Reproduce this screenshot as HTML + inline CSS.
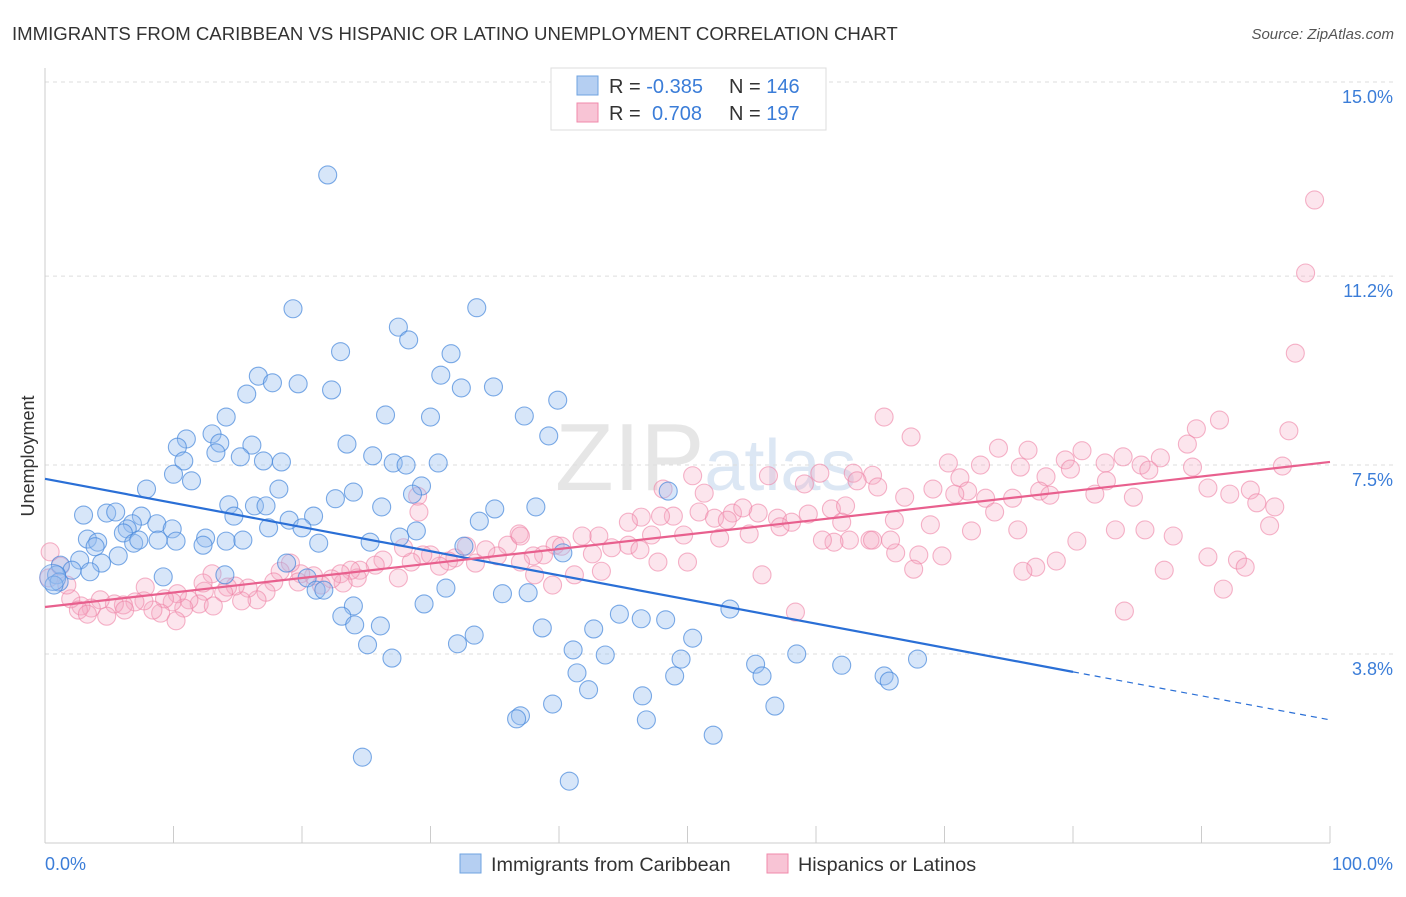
<!DOCTYPE html>
<html><head><meta charset="utf-8"><style>
body{margin:0;background:#fff;font-family:"Liberation Sans",sans-serif;}
svg text{font-family:"Liberation Sans",sans-serif;}
</style></head><body>
<svg id="chart" width="1406" height="892" xmlns="http://www.w3.org/2000/svg">
<text x="12" y="40" font-size="18.6" fill="#333">IMMIGRANTS FROM CARIBBEAN VS HISPANIC OR LATINO UNEMPLOYMENT CORRELATION CHART</text>
<text x="1394" y="39" font-size="15" fill="#555" font-style="italic" text-anchor="end">Source: ZipAtlas.com</text>
<text x="555" y="490" font-size="96" fill="#e6e6e6" font-family="Liberation Serif">ZIP<tspan fill="#dce7f4" font-family="Liberation Sans" font-size="72">atlas</tspan></text>
<g id="grid"></g>
<g id="axes"></g>
<g id="pinkpts"></g>
<g id="bluepts"></g>
<g id="trends"></g>
<text transform="translate(34,456) rotate(-90)" font-size="18" fill="#333" text-anchor="middle">Unemployment</text>
<text x="45" y="870" font-size="18" fill="#3b7dd8">0.0%</text>
<text x="1393" y="870" font-size="18" fill="#3b7dd8" text-anchor="end">100.0%</text>
<g>
<rect x="551" y="68" width="275" height="62" fill="#fff" stroke="#ddd"/>
<rect x="577" y="76" width="21" height="19" fill="#b5cff2" stroke="#6fa3e0"/>
<rect x="577" y="103" width="21" height="19" fill="#f8c4d5" stroke="#f08aab"/>
<text x="609" y="93" font-size="20" fill="#333">R = <tspan fill="#3b7dd8">-0.385</tspan><tspan x="729">N = </tspan><tspan fill="#3b7dd8">146</tspan></text>
<text x="609" y="120" font-size="20" fill="#333">R = <tspan fill="#3b7dd8" x="652">0.708</tspan><tspan x="729">N = </tspan><tspan fill="#3b7dd8">197</tspan></text>
</g>
<g>
<rect x="460" y="854" width="21" height="19" fill="#b5cff2" stroke="#6fa3e0"/>
<text x="491" y="871" font-size="19.8" fill="#333">Immigrants from Caribbean</text>
<rect x="767" y="854" width="21" height="19" fill="#f8c4d5" stroke="#f08aab"/>
<text x="798" y="871" font-size="19.8" fill="#333">Hispanics or Latinos</text>
</g>
</svg>
<script>
const yTicks=[15.0,11.2,7.5,3.8];
const yTickLabels=["15.0%","11.2%","7.5%","3.8%"];
const xTicks=[0,10,20,30,40,50,60,70,80,90,100];
const blueX=[22.0,19.3,33.6,27.5,28.3,23.0,31.6,30.8,16.6,17.7,19.7,32.4,34.9,22.3,15.7,39.9,26.5,30.0,37.3,14.1,13.0,39.2,11.0,10.3,13.6,23.5,16.1,15.2,13.3,25.5,17.0,18.4,27.1,28.1,30.6,10.8,10.0,11.4,7.9,29.3,18.2,48.5,24.0,28.6,22.6,14.3,16.3,26.2,17.2,35.0,38.2,3.0,4.8,5.5,7.5,14.7,19.0,20.9,6.8,8.7,6.4,6.1,9.9,17.4,20.0,28.9,33.8,3.3,4.1,3.9,6.9,7.3,8.8,10.2,12.5,14.1,15.4,12.3,21.3,25.3,27.6,32.6,5.7,2.7,4.4,3.5,1.2,2.1,0.9,1.1,0.7,18.8,20.4,9.2,14.0,40.3,21.1,21.7,31.2,35.6,37.6,24.0,29.5,23.1,44.7,46.4,48.3,53.3,24.1,26.1,38.7,33.4,42.7,32.1,25.1,50.4,27.0,41.1,43.6,49.5,55.3,58.5,62.0,67.9,41.4,49.0,55.8,65.3,65.7,42.3,46.5,39.5,56.8,37.0,36.7,46.8,52.0,24.7,40.8];
const blueY=[13.18,10.56,10.58,10.2,9.95,9.72,9.68,9.26,9.24,9.11,9.09,9.01,9.03,8.97,8.89,8.77,8.48,8.44,8.46,8.44,8.11,8.07,8.01,7.85,7.93,7.91,7.89,7.66,7.74,7.68,7.58,7.56,7.54,7.50,7.54,7.58,7.32,7.19,7.03,7.09,7.03,6.99,6.97,6.93,6.84,6.72,6.70,6.68,6.70,6.64,6.68,6.52,6.56,6.58,6.50,6.50,6.42,6.50,6.35,6.35,6.25,6.17,6.25,6.27,6.27,6.21,6.40,6.05,5.99,5.90,5.97,6.03,6.03,6.01,6.07,6.01,6.03,5.93,5.97,5.99,6.09,5.91,5.72,5.64,5.58,5.41,5.54,5.44,5.35,5.21,5.15,5.58,5.29,5.31,5.35,5.78,5.05,5.05,5.09,4.98,5.0,4.74,4.78,4.54,4.58,4.49,4.47,4.68,4.37,4.35,4.31,4.17,4.29,4.0,3.98,4.11,3.72,3.88,3.78,3.70,3.60,3.80,3.58,3.70,3.43,3.37,3.37,3.37,3.27,3.10,2.98,2.82,2.78,2.59,2.53,2.51,2.21,1.78,1.31];
const pinkX=[98.8,98.1,97.3,65.3,67.4,91.4,96.8,89.6,88.9,74.2,76.5,80.7,83.9,86.8,85.3,82.5,79.4,89.3,96.3,70.3,72.8,71.2,77.9,79.8,85.9,77.4,82.6,84.7,81.7,90.5,92.2,93.8,94.3,95.7,95.3,75.9,78.2,75.3,71.8,70.8,73.2,69.1,66.9,73.9,56.3,60.3,62.9,64.4,63.2,64.8,59.1,50.4,48.1,51.3,48.9,46.4,47.9,45.4,50.9,52.1,53.5,55.5,53.1,54.3,57.0,58.1,59.4,61.2,62.3,62.0,57.2,54.8,52.5,49.7,47.2,45.4,43.1,44.1,42.6,41.8,39.7,38.8,38.0,36.9,36.0,35.2,34.3,33.5,32.8,31.9,31.4,30.7,30.0,29.4,29.0,29.1,28.5,27.9,27.5,26.3,25.7,24.5,24.3,23.8,23.0,23.2,22.3,21.5,20.9,19.9,19.7,19.1,18.3,17.8,17.2,16.5,15.8,15.3,14.8,14.2,13.9,13.0,12.4,12.0,11.2,10.8,10.3,9.9,9.3,9.0,8.4,7.8,7.7,7.0,6.1,5.4,4.8,4.3,3.6,2.8,2.0,1.7,1.2,0.4,0.3,2.6,3.3,6.2,10.2,12.3,13.1,39.5,50.0,55.8,47.7,58.4,84.0,87.1,90.5,91.7,92.8,93.4,87.8,85.6,83.3,80.3,78.7,77.1,76.1,75.7,72.1,69.8,68.0,66.2,65.8,64.2,62.6,61.4,60.5,64.4,67.6,68.9,66.1,41.2,37.0,40.2,43.3,46.3,37.0,38.1];
const pinkY=[12.69,11.26,9.69,8.44,8.05,8.38,8.17,8.21,7.91,7.83,7.79,7.78,7.66,7.64,7.50,7.54,7.60,7.46,7.48,7.54,7.50,7.25,7.27,7.42,7.40,6.99,7.19,6.87,6.93,7.05,6.93,7.01,6.76,6.68,6.31,7.46,6.91,6.85,6.99,6.93,6.85,7.03,6.87,6.58,7.29,7.34,7.34,7.30,7.19,7.07,7.13,7.29,7.03,6.95,6.50,6.48,6.50,6.38,6.58,6.46,6.56,6.56,6.42,6.66,6.46,6.38,6.54,6.64,6.70,6.38,6.29,6.15,6.07,6.13,6.13,5.93,6.11,5.88,5.76,6.11,5.93,5.74,5.72,6.15,5.93,5.72,5.84,5.58,5.91,5.68,5.62,5.52,5.74,5.74,6.89,6.58,5.60,5.88,5.29,5.64,5.54,5.44,5.29,5.44,5.37,5.19,5.27,5.15,5.33,5.37,5.21,5.58,5.42,5.21,5.01,4.86,5.09,4.84,5.13,5.11,5.0,5.37,5.03,4.78,4.86,4.70,4.98,4.82,4.88,4.60,4.66,5.11,4.84,4.82,4.76,4.78,4.54,4.86,4.70,4.74,4.88,5.15,5.52,5.80,5.29,4.66,4.58,4.66,4.45,5.19,4.74,5.15,5.60,5.35,5.60,4.62,4.64,5.44,5.70,5.07,5.64,5.50,6.11,6.23,6.23,6.01,5.62,5.50,5.42,6.23,6.21,5.72,5.74,5.78,6.03,6.03,6.03,5.99,6.03,6.03,5.46,6.33,6.42,5.35,5.60,5.91,5.42,5.84,6.11,5.35,5.38];
const blueTrend=[[0,7.23],[80,3.45],[100,2.51]];
const pinkTrend=[[0,4.72],[100,7.56]];

const NS="http://www.w3.org/2000/svg";
const xS=v=>45+v*12.85;
const yS=v=>82+(15-v)*51.07;
function mk(tag,attrs,parent){const e=document.createElementNS(NS,tag);for(const k in attrs)e.setAttribute(k,attrs[k]);parent.appendChild(e);return e;}
const grid=document.getElementById('grid');
yTicks.forEach((t,i)=>{
  const l=mk('line',{x1:45,x2:1393,y1:yS(t),y2:yS(t),stroke:'#ddd','stroke-dasharray':'4,4'},grid);
  
  
  const tx=mk('text',{x:1393,y:yS(t)+21,'font-size':18,fill:'#3b7dd8','text-anchor':'end'},grid);
  tx.textContent=yTickLabels[i];
  
  
});
const axes=document.getElementById('axes');
const ya=mk('line',{x1:45,x2:45,y1:68,y2:843,stroke:'#ccc'},axes);


const xa=mk('line',{x1:45,x2:1330,y1:843,y2:843,stroke:'#ccc'},axes);


xTicks.forEach(t=>{
  const l=mk('line',{x1:xS(t),x2:xS(t),y1:826,y2:843,stroke:'#ccc'},axes);
  
  
});
const pg=document.getElementById('pinkpts');
pinkX.forEach((x,i)=>{
  const c=mk('circle',{cx:xS(x),cy:yS(pinkY[i]),r:9,fill:'rgba(245,170,195,0.3)',stroke:'rgba(238,130,165,0.6)','stroke-width':1.1},pg);
  
  
});
const bg=document.getElementById('bluepts');
blueX.forEach((x,i)=>{
  const c=mk('circle',{cx:xS(x),cy:yS(blueY[i]),r:9,fill:'rgba(150,190,240,0.38)',stroke:'rgba(70,135,220,0.7)','stroke-width':1.1},bg);
  
  
});
const big=mk('circle',{cx:xS(0.6),cy:yS(5.3),r:13,fill:'rgba(150,190,240,0.4)',stroke:'rgba(70,135,220,0.6)'},bg);


const tg=document.getElementById('trends');
const b1=mk('line',{x1:xS(blueTrend[0][0]),y1:yS(blueTrend[0][1]),x2:xS(blueTrend[1][0]),y2:yS(blueTrend[1][1]),stroke:'#2a6fd6','stroke-width':2.2},tg);


const b2=mk('line',{x1:xS(blueTrend[1][0]),y1:yS(blueTrend[1][1]),x2:xS(blueTrend[2][0]),y2:yS(blueTrend[2][1]),stroke:'#2a6fd6','stroke-width':1.2,'stroke-dasharray':'6,5'},tg);


const p1=mk('line',{x1:xS(pinkTrend[0][0]),y1:yS(pinkTrend[0][1]),x2:xS(pinkTrend[1][0]),y2:yS(pinkTrend[1][1]),stroke:'#e8608e','stroke-width':2.2},tg);


</script>
</body></html>
